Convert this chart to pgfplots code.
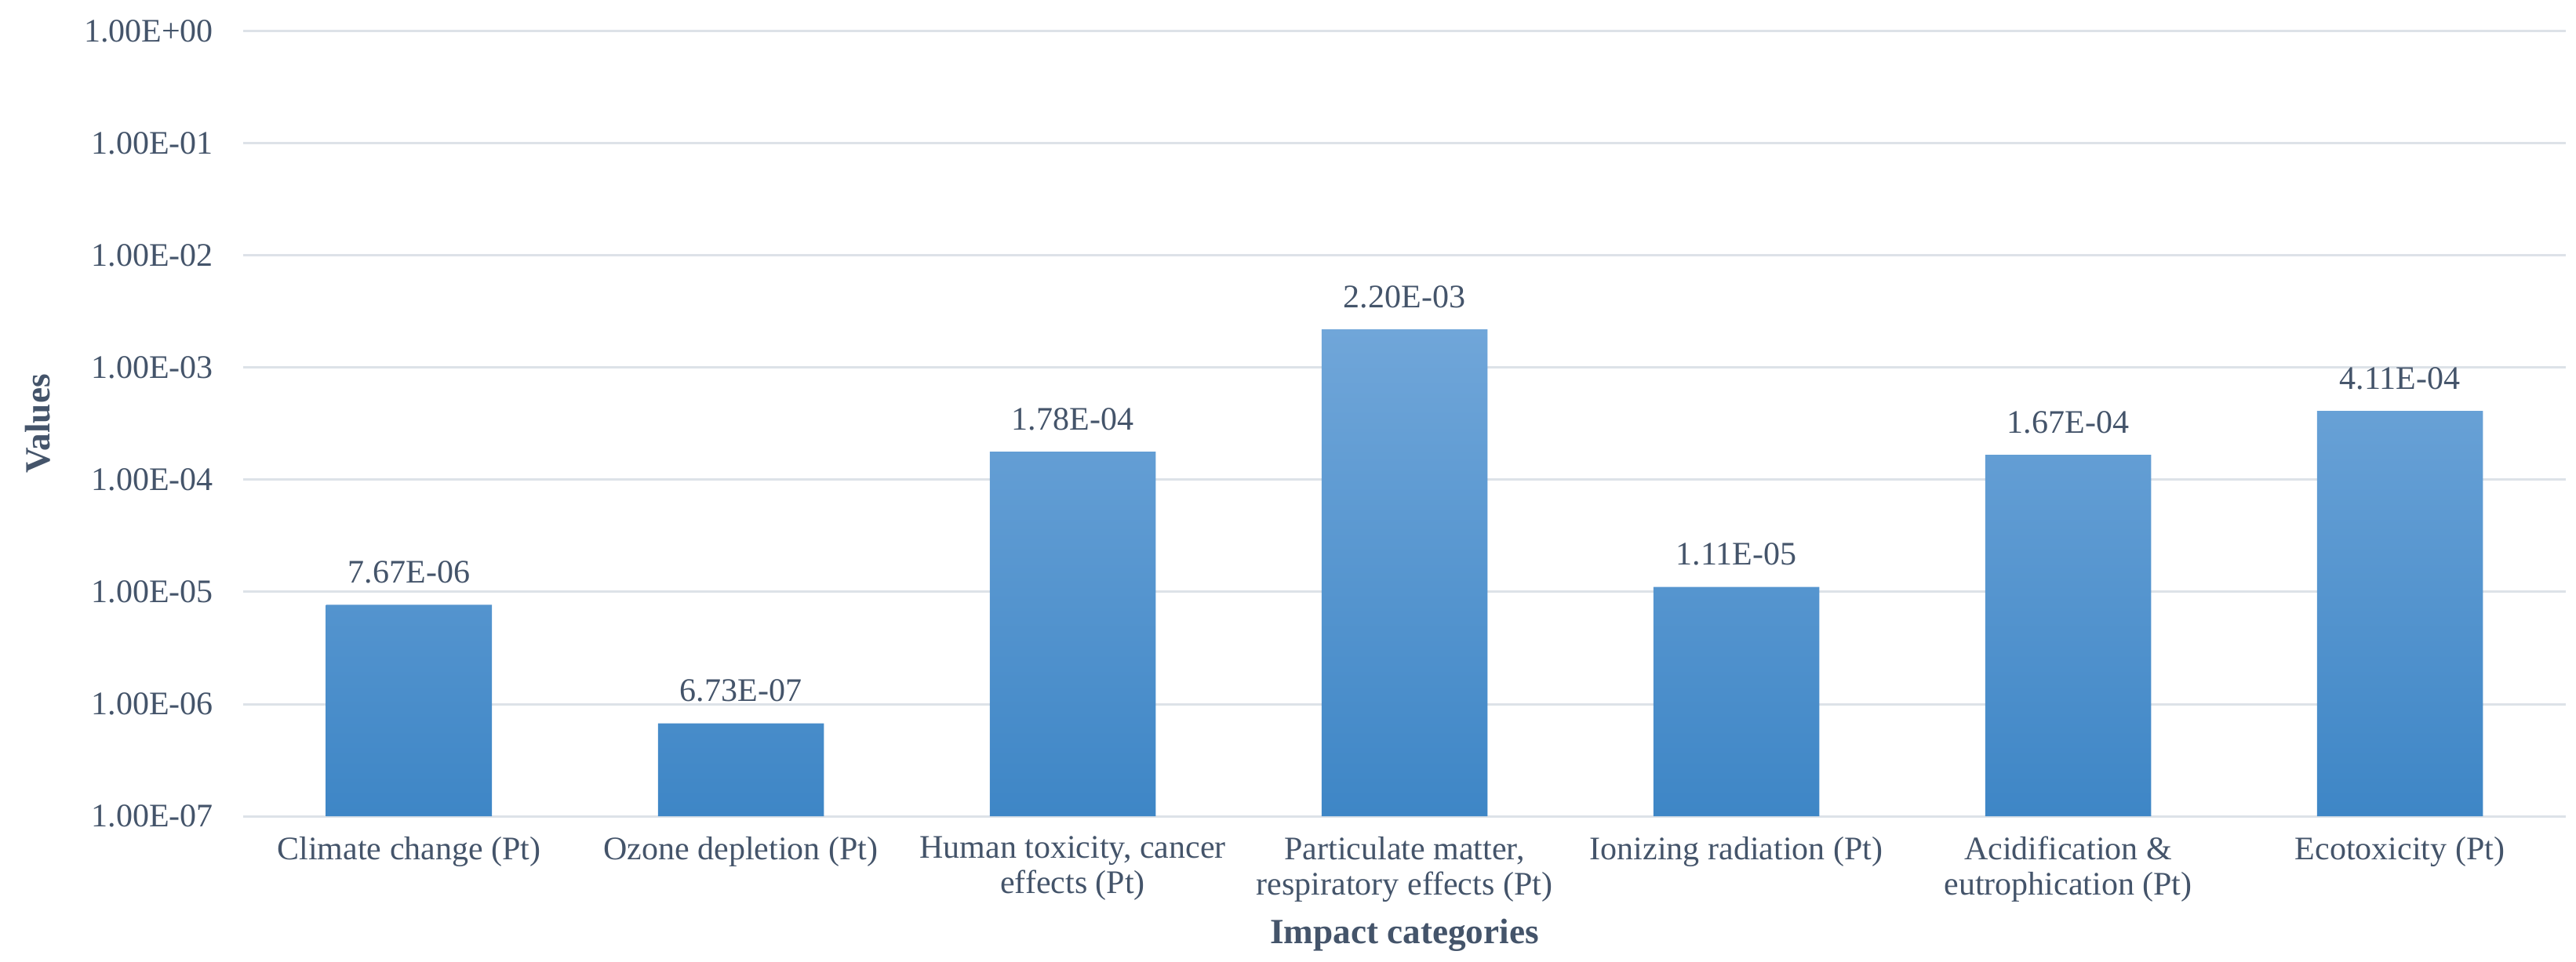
\documentclass[border=0pt]{standalone}
\usepackage{fontspec}
\setmainfont{Liberation Serif}
\usepackage{pgfplots}
\pgfplotsset{compat=1.18}

\definecolor{txt}{HTML}{44546A}
\definecolor{gridc}{HTML}{DDE2E8}
\definecolor{barTop}{RGB}{112,166,217}
\definecolor{barBot}{RGB}{62,134,198}

\begin{document}
\begin{tikzpicture}
% fixes the page to the reference's proportions
\path (-77.5pt,-46.5pt) rectangle (743.5pt,260.25pt);
\begin{axis}[
    at={(0,0)}, anchor=south west,
    scale only axis,
    width=740.25pt, height=250.25pt,
    ymode=log, log origin=infty,
    ymin=1e-7, ymax=1,
    xmin=-0.5, xmax=6.5,
    ytick={1e-7,1e-6,1e-5,1e-4,1e-3,1e-2,1e-1,1},
    yticklabels={1.00E-07,1.00E-06,1.00E-05,1.00E-04,1.00E-03,1.00E-02,1.00E-01,1.00E+00},
    xtick={0,1,2,3,4,5,6},
    xticklabels={Climate change (Pt), Ozone depletion (Pt), {Human toxicity, cancer\\effects (Pt)}, {Particulate matter,\\respiratory effects (Pt)}, Ionizing radiation (Pt), Acidification \&\\eutrophication (Pt), Ecotoxicity (Pt)},
    axis line style={draw=none},
    major tick length=0pt, minor tick length=0pt,
    tick style={draw=none},
    minor y tick num=0,
    ymajorgrids=true, yminorgrids=false,
    grid style={gridc, line width=0.75pt},
    tick label style={txt, font=\fontsize{10.5}{11.25}\selectfont},
    xticklabel style={align=center, yshift=-3pt},
    yticklabel style={xshift=-6pt},
    xlabel={Impact categories},
    ylabel={Values},
    label style={txt, font=\fontsize{11.3}{13}\selectfont\bfseries},
    xlabel style={at={(axis description cs:0.5,0)}, anchor=base, yshift=-40.5pt},
    ylabel style={at={(axis description cs:0,0.5)}, anchor=center, yshift=65.5pt},
    ybar, bar width=0.5,
    nodes near coords,
    point meta=explicit symbolic,
    nodes near coords style={txt, font=\fontsize{10.5}{12}\selectfont, anchor=base, yshift=7pt},
]
\addplot[draw=none, top color=barTop, bottom color=barBot]
    coordinates {
    (0,7.67e-6) [7.67E-06]
    (1,6.73e-7) [6.73E-07]
    (2,1.78e-4) [1.78E-04]
    (3,2.20e-3) [2.20E-03]
    (4,1.11e-5) [1.11E-05]
    (5,1.67e-4) [1.67E-04]
    (6,4.11e-4) [4.11E-04]
    };
\end{axis}
\end{tikzpicture}
\end{document}
